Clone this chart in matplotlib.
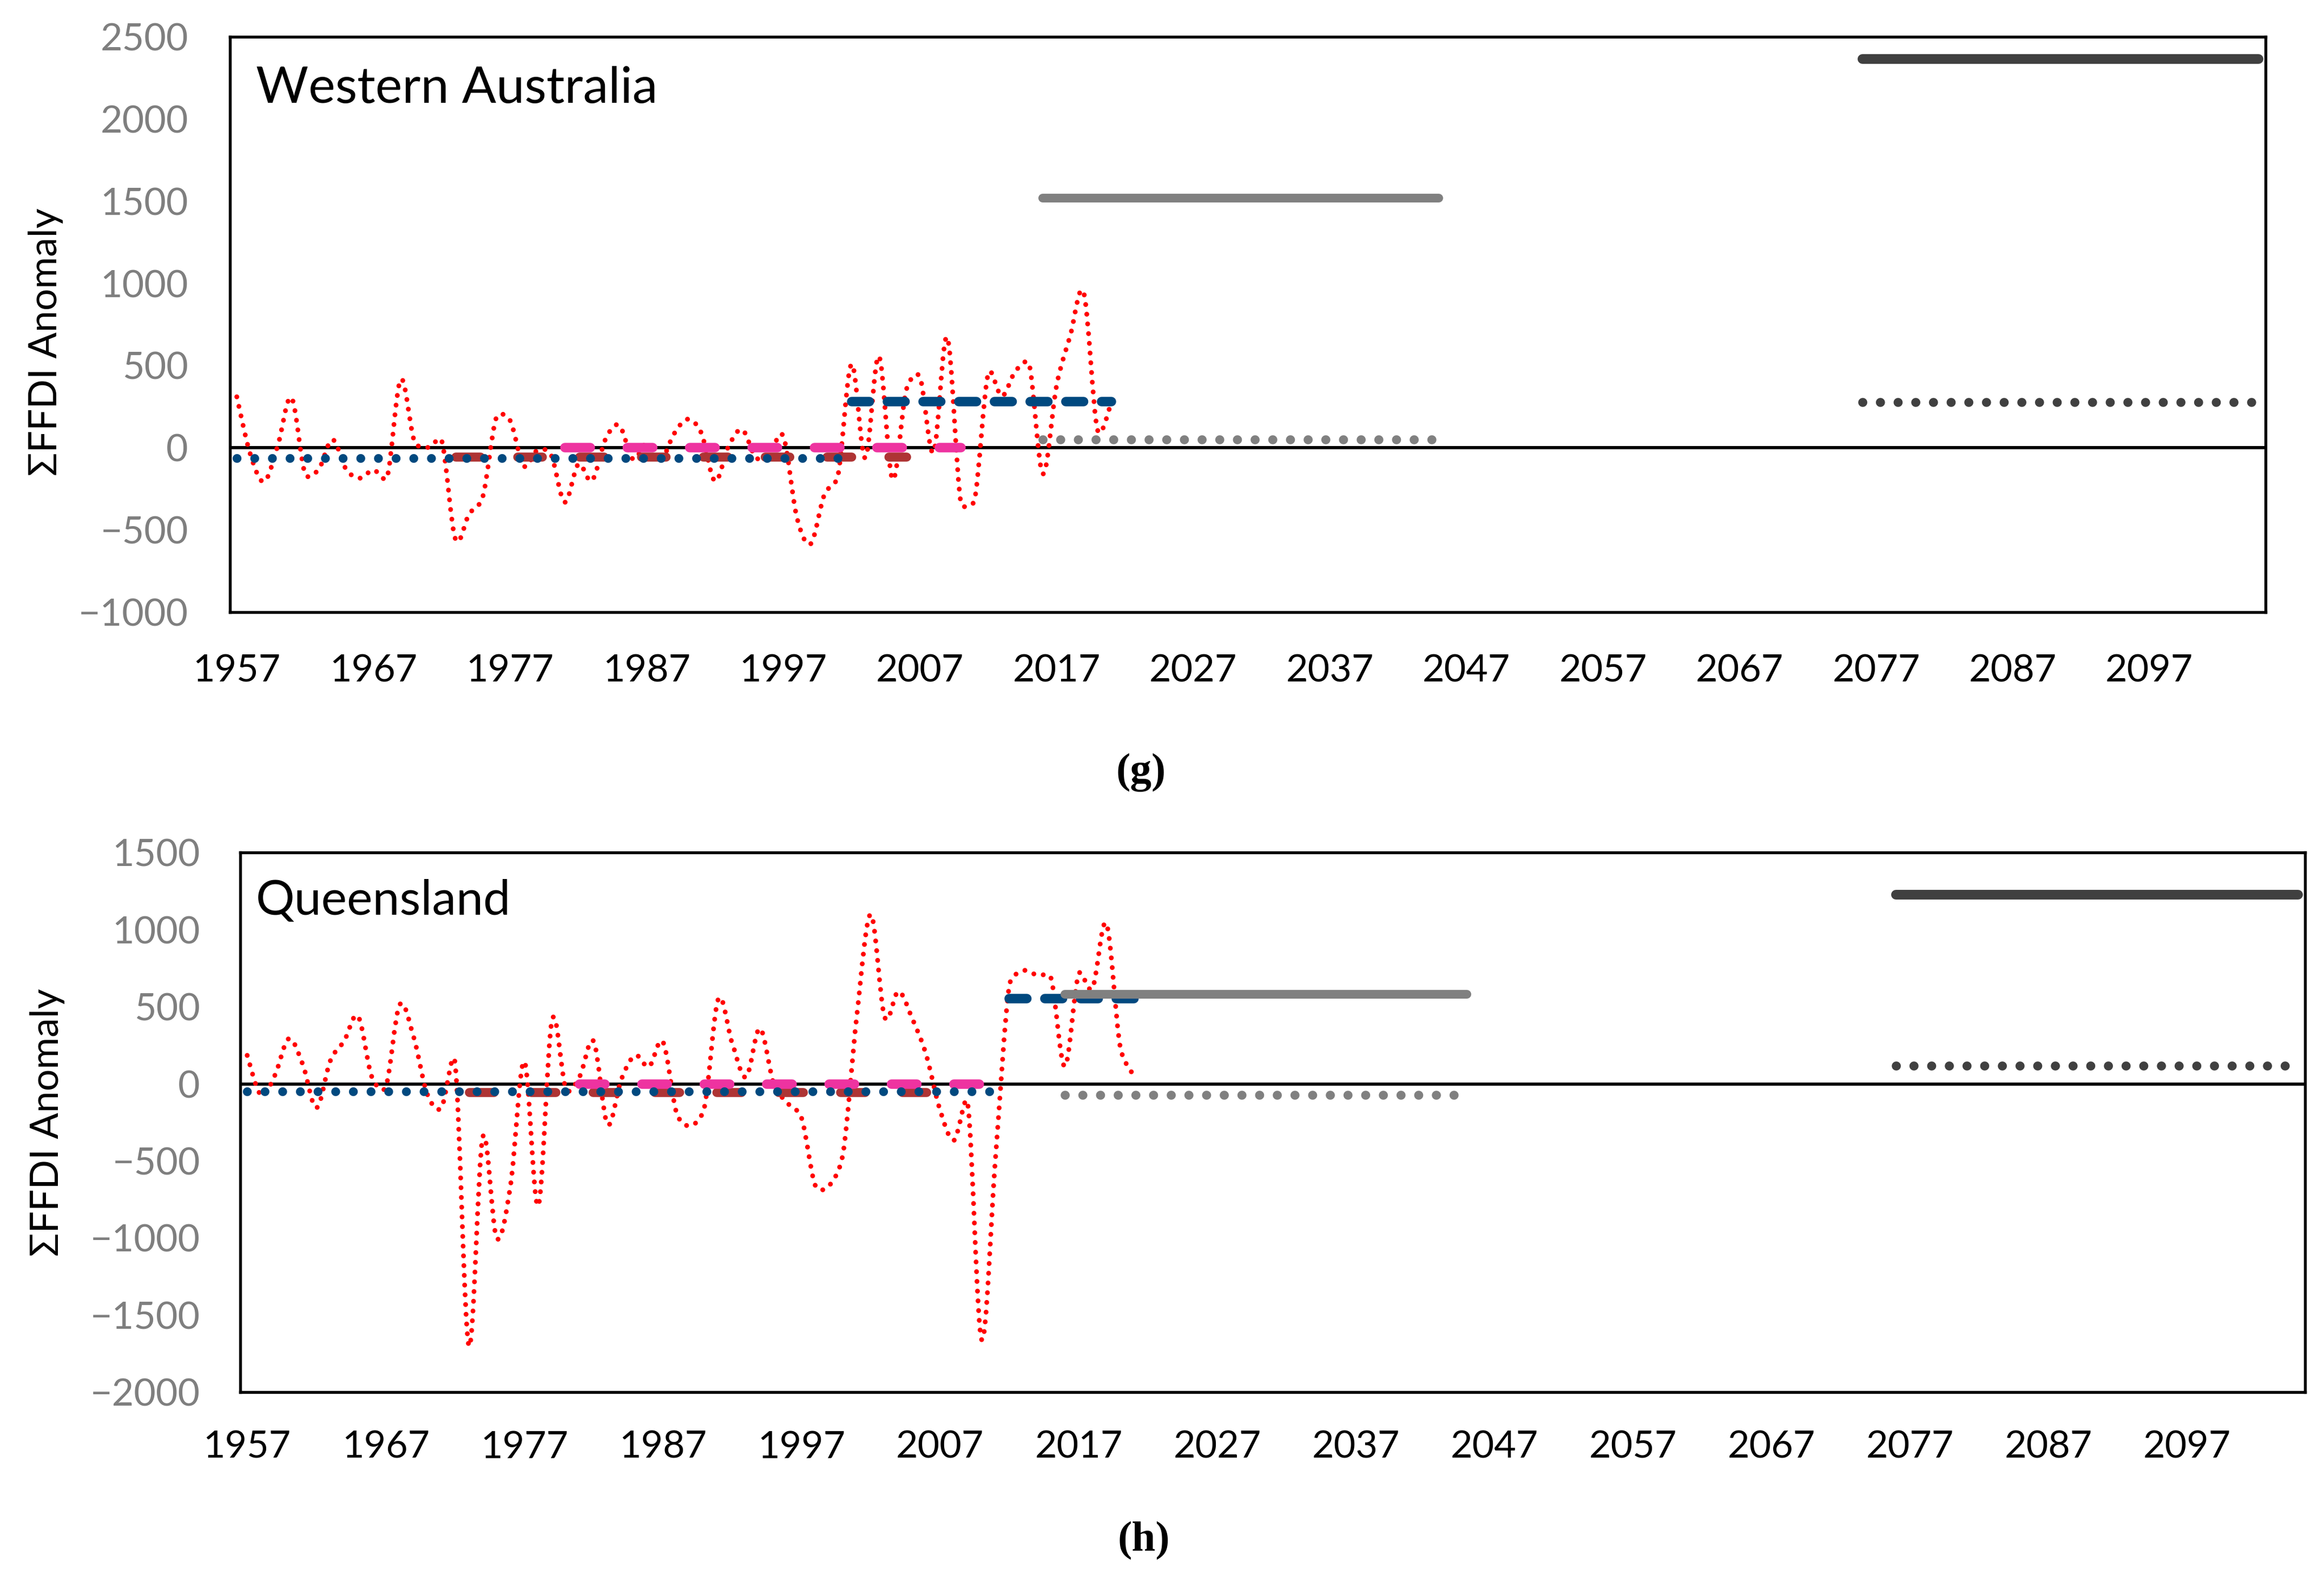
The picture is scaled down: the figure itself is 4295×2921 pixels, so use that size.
import matplotlib
matplotlib.use('Agg')
import matplotlib.pyplot as plt
import numpy as np
from matplotlib.path import Path
from matplotlib.patches import PathPatch

plt.rcParams['font.family'] = ['Lato', 'DejaVu Sans']

# annual sum-of-FFDI anomaly
years = list(range(1957, 2022))
wa_ffdi = [310, -42, -206, 13, 305, -158, -130, 50, -130, -185,
           -135, -180, 416, 40, 2, 43, -554, -404, -300, 184,
           167, -110, -15, -42, -331, -100, -200, 54, 136, -69,
           27, -80, 84, 174, 90, -203, 10, 110, -60, -40,
           70, -425, -585, -288, -170, 509, -62, 557, -192, 350,
           430, -28, 672, -335, -319, 450, 314, 467, 508, -158,
           375, 680, 940, 110, 270]
qld_ffdi = [185, -73, 56, 293, 129, -155, 150, 279, 439, 44,
            -20, 513, 308, -67, -157, 135, -1700, -345, -1000, -660,
            145, -790, 415, -30, 50, 276, -262, 30, 185, 112,
            273, -193, -272, -149, 551, 264, 44, 360, 0, -125,
            -220, -660, -660, -450, 450, 1100, 434, 600, 422, 188,
            -170, -366, -132, -1660, -480, 640, 735, 705, 688, 114,
            712, 622, 1040, 240, 50]

# period means: pre-change, post-change, 1973 base, 1981-2010 base,
# mid-century (dotted / solid), end-of-century (dotted / solid)
wa_seg_start = [1957, 2002, 1973, 1981, 2016, 2016, 2076, 2076]
wa_seg_end = [2001, 2021, 2006, 2010, 2045, 2045, 2105, 2105]
wa_seg_value = [-65, 280, -55, 0, 50, 1518, 276, 2365]

qld_seg_start = [1957, 2012, 1973, 1981, 2016, 2016, 2076, 2076]
qld_seg_end = [2011, 2021, 2006, 2010, 2045, 2045, 2105, 2105]
qld_seg_value = [-50, 555, -53, 0, -70, 582, 118, 1228]

xtick_years = list(range(1957, 2098, 10))

# styles for the period-mean lines (colour, width, dash pattern or None)
seg_styles = [
    ('#00497F', 3.9, (0.01, 2.0)),
    ('#00497F', 4.2, (1.87, 1.9)),
    ('#AE3434', 4.0, (2.73, 4.13)),
    ('#EE33A0', 4.2, (2.68, 3.91)),
    ('#808080', 4.0, (0.01, 1.95)),
    ('#808080', 3.85, None),
    ('#404040', 4.0, (0.01, 1.95)),
    ('#404040', 4.3, None),
]
seg_z = [5, 5, 3, 4, 6, 6, 6, 6]


def smooth_path(ax, x, y):
    # Excel-like smoothed line: Bezier pieces worked out in screen space,
    # control arms limited to half of the segment length
    pts = ax.transData.transform(np.column_stack([x, y]))
    n = len(pts)
    verts = [pts[0]]
    codes = [Path.MOVETO]
    for i in range(n - 1):
        p0 = pts[i]
        p1 = pts[i + 1]
        seg = np.hypot(*(p1 - p0))
        ta = pts[i + 1] - pts[i - 1] if i > 0 else p1 - p0
        tb = pts[i + 2] - pts[i] if i + 2 < n else p1 - p0
        fa = min(1 / 6.0, 0.5 * seg / max(np.hypot(*ta), 1e-9))
        fb = min(1 / 6.0, 0.5 * seg / max(np.hypot(*tb), 1e-9))
        verts += [p0 + ta * fa, p1 - tb * fb, p1]
        codes += [Path.CURVE4] * 3
    verts = ax.transData.inverted().transform(np.array(verts))
    return Path(verts, codes)


def draw_panel(ax, values, seg_start, seg_end, seg_value, yticks, name, name_x, name_size,
               ylab_pos, pads):
    ax.set_xlim(1956.5, 2105.5)
    ax.set_ylim(yticks[0], yticks[-1])
    ax.axhline(0, color='black', lw=1.4, zorder=1)

    red = PathPatch(smooth_path(ax, years, values), fill=False, edgecolor='#FF0000',
                    lw=2.15, linestyle=(0, (0.01, 2.0)), capstyle='round',
                    joinstyle='round', zorder=2)
    ax.add_patch(red)
    for s, e, v, st, z in zip(seg_start, seg_end, seg_value, seg_styles, seg_z):
        col, w, dash = st
        if dash is None:
            ax.plot([s, e], [v, v], color=col, lw=w, solid_capstyle='round', zorder=z)
        else:
            ax.plot([s, e], [v, v], color=col, lw=w, dashes=dash,
                    dash_capstyle='round', zorder=z)

    ax.set_xticks(xtick_years)
    ax.set_yticks(yticks)
    ax.set_yticklabels([str(t).replace('-', '\u2212') for t in yticks])
    ax.tick_params(axis='y', length=0, pad=pads[0], labelsize=16.8, labelcolor='#7F7F7F')
    ax.tick_params(axis='x', length=0, pad=pads[1], labelsize=16.8, labelcolor='black')
    for sp in ax.spines.values():
        sp.set_linewidth(1.3)
        sp.set_color('black')

    ax.text(name_x, 0.885, name, transform=ax.transAxes, fontsize=name_size,
            va='baseline', ha='left')
    ax.set_ylabel('ΣFFDI Anomaly', fontsize=17.2)
    ax.yaxis.set_label_coords(ylab_pos[0], ylab_pos[1])


fig = plt.figure(figsize=(4295 / 300, 2921 / 300), dpi=300)

ax1 = fig.add_axes([0.09895, 0.6128, 0.8759, 0.36392])
draw_panel(ax1, wa_ffdi, wa_seg_start, wa_seg_end, wa_seg_value,
           list(range(-1000, 2501, 500)), 'Western Australia', 0.0128, 22.5,
           (-0.082, 0.47), (18.5, 18.5))

ax2 = fig.add_axes([0.10338, 0.11948, 0.88847, 0.34115])
draw_panel(ax2, qld_ffdi, qld_seg_start, qld_seg_end, qld_seg_value,
           list(range(-2000, 1501, 500)), 'Queensland', 0.0076, 21.5,
           (-0.085, 0.5), (17.8, 17))

fig.text(0.491, 0.5115, '(g)', family=['Liberation Serif'], fontweight='bold',
         fontsize=19, ha='center', va='center')
fig.text(0.4922, 0.0253, '(h)', family=['Liberation Serif'], fontweight='bold',
         fontsize=19, ha='center', va='center')

fig.savefig('out.png', dpi=300)
plt.close('all')
